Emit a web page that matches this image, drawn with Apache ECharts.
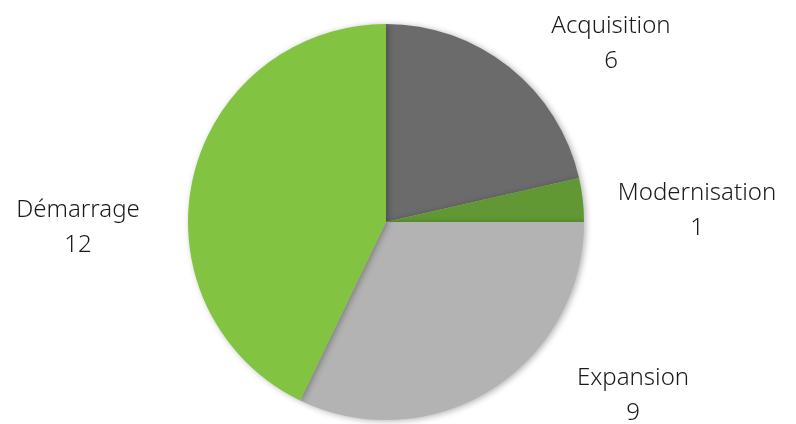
<!DOCTYPE html>
<html>
<head>
<meta charset="utf-8">
<script src="https://cdn.jsdelivr.net/npm/echarts@6/dist/echarts.min.js"></script>
<style>html,body{margin:0;padding:0;background:#fff;}#c{width:796px;height:424px;}</style>
</head>
<body>
<div id="c"></div>
<script>
const categories = ['Acquisition', 'Modernisation', 'Expansion', 'Démarrage'];
const values = [6, 1, 9, 12];
const colors = ['#6b6b6b', '#619833', '#b3b3b3', '#82c341'];

const labelPos = {
  'Acquisition': [611, 44],
  'Modernisation': [697, 211],
  'Expansion': [633, 396],
  'Démarrage': [78, 228]
};

const chart = echarts.init(document.getElementById('c'));
chart.setOption({
  animation: false,
  series: [{
    type: 'pie',
    center: [386, 222],
    radius: 198,
    startAngle: 90,
    clockwise: true,
    data: categories.map((n, i) => ({ name: n, value: values[i], itemStyle: { color: colors[i] } })),
    itemStyle: { shadowBlur: 6, shadowColor: 'rgba(0,0,0,0.3)', shadowOffsetX: 2, shadowOffsetY: 1 },
    label: {
      show: true,
      position: 'outside',
      formatter: '{b}\n{c}',
      fontFamily: '"Noto Sans", sans-serif',
      fontWeight: 300,
      fontSize: 24,
      lineHeight: 35,
      color: '#1a1a1a',
      align: 'center',
      overflow: 'none'
    },
    labelLine: { show: false },
    labelLayout: function (p) {
      const pos = labelPos[categories[p.dataIndex]];
      return { x: pos[0], y: pos[1], align: 'center', verticalAlign: 'middle' };
    }
  }]
});
</script>
</body>
</html>
